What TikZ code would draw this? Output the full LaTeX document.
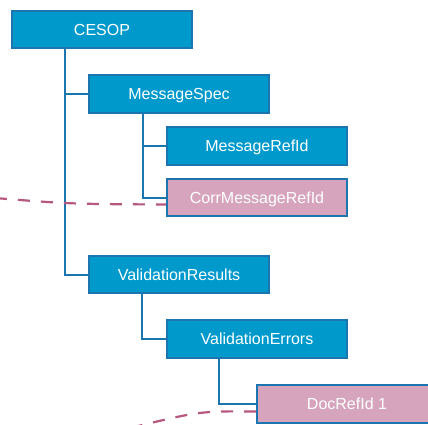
\documentclass[tikz,border=0pt]{standalone}
\usepackage{fontspec}
\setmainfont{Liberation Sans}
\definecolor{boxfill}{HTML}{0099CC}
\definecolor{boxline}{HTML}{1B76B0}
\definecolor{pinkfill}{HTML}{D6A5BD}
\definecolor{dashcol}{HTML}{B5577F}
\tikzset{
  bluebox/.style={draw=boxline, fill=boxfill, line width=2pt, minimum width=180pt, minimum height=37.6pt, inner sep=0pt, text height=11.5pt, text depth=0pt, text=white, font=\fontsize{16pt}{19pt}\selectfont},
  pinkbox/.style={bluebox, fill=pinkfill},
  conn/.style={draw=boxline, line width=2pt},
  refline/.style={draw=dashcol, line width=2.2pt, dash pattern=on 12pt off 11pt}
}
\begin{document}
\begin{tikzpicture}[x=1pt,y=-1pt]
\useasboundingbox (0,0) rectangle (428,424);
\clip (0,0) rectangle (428,424);
\node[bluebox] (cesop) at (102,29.5) {CESOP};
\node[bluebox] (mspec) at (179,94) {MessageSpec};
\node[bluebox] (mref) at (257,146) {MessageRefId};
\node[pinkbox] (corr) at (257,197.5) {CorrMessageRefId};
\node[bluebox] (vres) at (179,274.5) {ValidationResults};
\node[bluebox] (verr) at (257,339) {ValidationErrors};
\node[pinkbox] (doc) at (347,404) {DocRefId 1};
\coordinate (leftend) at (-5,198);
\coordinate (bottomend) at (130,428);
\draw[conn] ([xshift=-37pt]cesop.south) |- (mspec.west);
\draw[conn] ([xshift=-37pt]cesop.south) |- (vres.west);
\draw[conn] ([xshift=-36pt]mspec.south) |- (mref.west);
\draw[conn] ([xshift=-36pt]mspec.south) |- (corr.west);
\draw[conn] ([xshift=-37pt]vres.south) |- (verr.west);
\draw[conn] ([xshift=-38pt]verr.south) |- (doc.west);
\draw[refline] (leftend) .. controls (70,204) .. ([yshift=-7pt]corr.west);
\draw[refline] ([yshift=-7.5pt]doc.west) .. controls (200,411) .. (bottomend);
\end{tikzpicture}
\end{document}
